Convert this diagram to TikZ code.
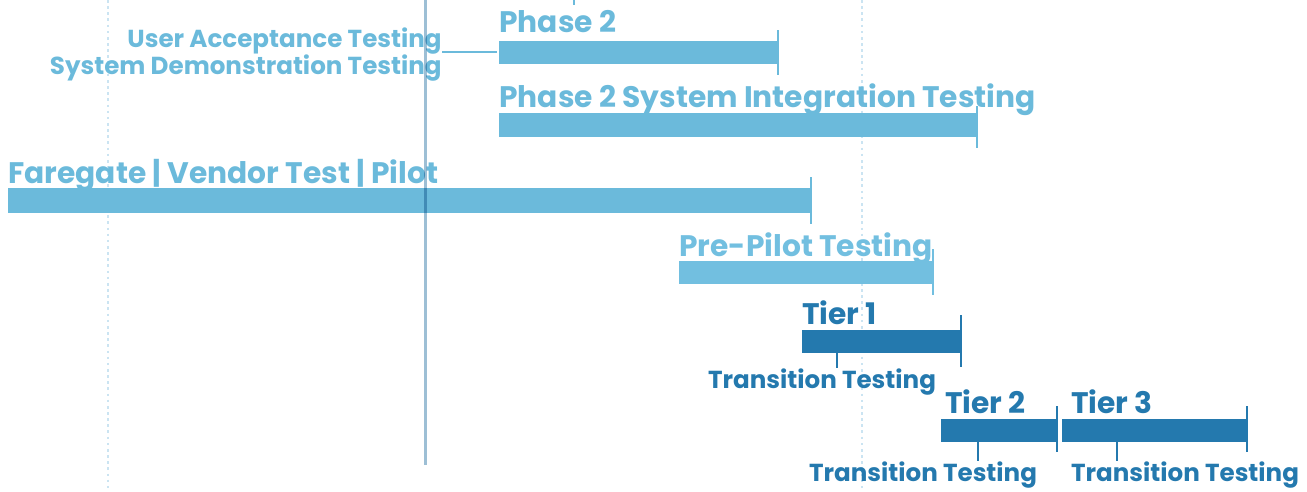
\documentclass[tikz,border=0pt]{standalone}
\usepackage{fontspec}
\setmainfont{Poppins}
\definecolor{phaseblue}{HTML}{6BBADB}
\definecolor{pilotblue}{HTML}{72BFE0}
\definecolor{tierblue}{HTML}{2479AE}
\definecolor{nowline}{HTML}{9DBFD5}
\definecolor{gridline}{HTML}{CBE4F2}
\tikzset{
  biglabel/.style={font=\bfseries\fontsize{16.9}{17}\selectfont, inner sep=0pt},
  smalllabel/.style={font=\bfseries\fontsize{14}{14}\selectfont, inner sep=0pt},
  endtick/.style={line width=1.2pt},
  leader/.style={line width=0.9pt}
}
\begin{document}
\begin{tikzpicture}[x=0.02cm,y=-0.02cm]
  \useasboundingbox (0,0) rectangle (1307,491);
  % gridlines
  \draw[gridline, line width=1.1pt, dash pattern=on 1.5pt off 2pt] (108,0) -- (108,491);
  \draw[gridline, line width=1.1pt, dash pattern=on 1.5pt off 2pt] (862,0) -- (862,491);
  \draw[phaseblue, endtick] (574,0) -- (574,5);
  % Phase 2
  \fill[phaseblue] (499,41) rectangle (778,64);
  \draw[phaseblue, endtick] (778,30) -- (778,75);
  \node[biglabel, text=phaseblue, anchor=base west] (phase) at (499,32) {Phase 2};
  \coordinate (phasestart) at (497,52);
  \node[smalllabel, text=phaseblue, anchor=base east] (uat) at (442,47) {User Acceptance Testing};
  \node[smalllabel, text=phaseblue, anchor=base east] (sdt) at (442,74) {System Demonstration Testing};
  \draw[phaseblue, leader] (uat.east |- phasestart) -- (phasestart);
  % Phase 2 SIT
  \fill[phaseblue] (499,113) rectangle (977,137);
  \draw[phaseblue, endtick] (977,106) -- (977,148);
  \node[biglabel, text=phaseblue, anchor=base west] (sit) at (499,107) {Phase 2 System Integration Testing};
  % Faregate
  \fill[phaseblue] (8,188) rectangle (811,213);
  \draw[phaseblue, endtick] (811,177) -- (811,224);
  \node[biglabel, text=phaseblue, anchor=base west] (faregate) at (8,183) {Faregate | Vendor Test | Pilot};
  % Pre-Pilot
  \fill[pilotblue] (679,261) rectangle (933,284);
  \draw[pilotblue, endtick] (933,249) -- (933,295);
  \node[biglabel, text=pilotblue, anchor=base west] (prepilot) at (679,256) {Pre-Pilot Testing};
  % Tier 1
  \fill[tierblue] (802,330) rectangle (961,353);
  \draw[tierblue, endtick] (961,315) -- (961,367);
  \node[biglabel, text=tierblue, anchor=base west] (tierone) at (802,324) {Tier 1};
  \coordinate (tieronefoot) at (837,353);
  \node[smalllabel, text=tierblue, anchor=base] (ttone) at (822,388) {Transition Testing};
  \draw[tierblue, leader] (tieronefoot) -- (tieronefoot |- ttone.north);
  % Tier 2
  \fill[tierblue] (941,419) rectangle (1057,442);
  \draw[tierblue, endtick] (1057,406) -- (1057,452);
  \node[biglabel, text=tierblue, anchor=base west] (tiertwo) at (945,413) {Tier 2};
  \coordinate (tiertwofoot) at (978,442);
  \node[smalllabel, text=tierblue, anchor=base] (tttwo) at (923,481) {Transition Testing};
  \draw[tierblue, leader] (tiertwofoot) -- (tiertwofoot |- tttwo.north);
  % Tier 3
  \fill[tierblue] (1062,419) rectangle (1247,442);
  \draw[tierblue, endtick] (1247,406) -- (1247,452);
  \node[biglabel, text=tierblue, anchor=base west] (tierthree) at (1071,413) {Tier 3};
  \coordinate (tierthreefoot) at (1117,442);
  \node[smalllabel, text=tierblue, anchor=base] (ttthree) at (1185,481) {Transition Testing};
  \draw[tierblue, leader] (tierthreefoot) -- (tierthreefoot |- ttthree.north);
  % today line
  \draw[nowline, line width=1.7pt, blend mode=multiply] (425,0) -- (425,465);
\end{tikzpicture}
\end{document}
